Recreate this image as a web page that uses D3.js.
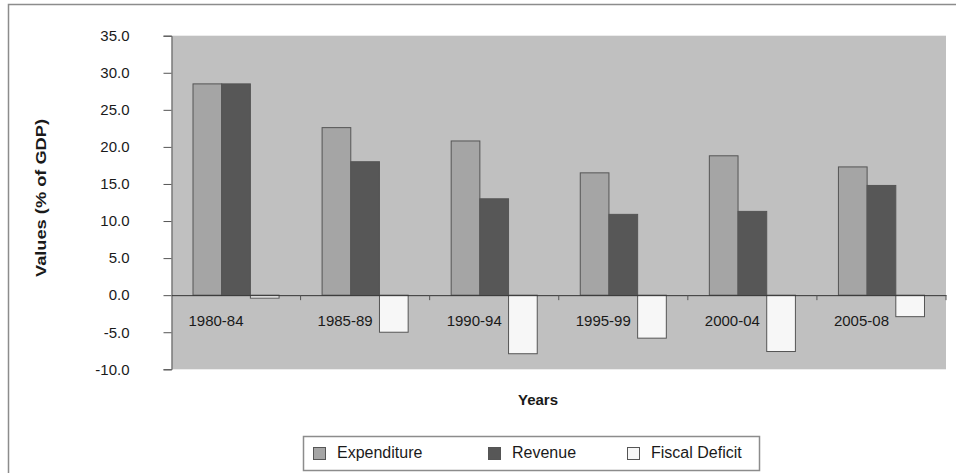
<!DOCTYPE html>
<html>
<head>
<meta charset="utf-8">
<script src="https://cdn.jsdelivr.net/npm/d3@7"></script>
<style>
  body { margin: 0; background: #fff; }
  text { font-family: "Liberation Sans", Arial, sans-serif; fill: #1a1a1a; }
  .axis-title { font-weight: bold; font-size: 15px; }
</style>
</head>
<body>
<svg id="chart" width="956" height="473"></svg>
<script>
const PERIODS = ["1980-84", "1985-89", "1990-94", "1995-99", "2000-04", "2005-08"];
const SERIES = ["Expenditure", "Revenue", "Fiscal Deficit"];
const EXPENDITURE = [28.5, 22.6, 20.8, 16.5, 18.8, 17.3];
const REVENUE = [28.5, 18.0, 13.0, 10.9, 11.3, 14.8];
const FISCAL_DEFICIT = [-0.4, -5.0, -7.9, -5.8, -7.6, -2.9];
const Y_TICKS = [-10, -5, 0, 5, 10, 15, 20, 25, 30, 35];

const COLORS = {"Expenditure": "#a5a5a5", "Revenue": "#575757", "Fiscal Deficit": "#f7f7f7"};

const PLOT = {left: 171.5, right: 946, top: 35.7, bottom: 369.3};

let svg = d3.select("#chart");

// outer frame (only top and left edges are visible)
svg.append("path")
   .attr("d", "M8.5,473 L8.5,4.5 L956,4.5")
   .attr("fill", "none")
   .attr("stroke", "#8c8c8c")
   .attr("stroke-width", 1.5);

let x = d3.scaleBand().domain(PERIODS).range([PLOT.left, PLOT.right]).paddingInner(0).paddingOuter(0);
let y = d3.scaleLinear().domain([-10, 35]).range([PLOT.bottom, PLOT.top]);

// inner bar positions: gap width 150% => each bar = band / 4.5
let xs = d3.scaleBand().domain(SERIES).range([0, x.bandwidth()]).paddingInner(0).paddingOuter(0.75);

svg.append("rect")
   .attr("x", PLOT.left).attr("y", PLOT.top)
   .attr("width", PLOT.right - PLOT.left).attr("height", PLOT.bottom - PLOT.top)
   .attr("fill", "#c0c0c0");

// y axis
let yAxis = svg.append("g")
   .attr("transform", `translate(${PLOT.left},0)`)
   .call(d3.axisLeft(y).tickValues(Y_TICKS).tickSize(8).tickPadding(34)
           .tickFormat(d => d.toFixed(1)));
yAxis.select(".domain").attr("stroke", "#555");
yAxis.selectAll(".tick line").attr("stroke", "#555");
yAxis.selectAll(".tick text").attr("font-size", "15px").attr("fill", "#1a1a1a")
     .attr("font-family", "Liberation Sans, Arial, sans-serif");

// bars
let rows = PERIODS.map((p, i) => ({period: p, values: [EXPENDITURE[i], REVENUE[i], FISCAL_DEFICIT[i]]}));

let groups = svg.append("g").selectAll("g")
   .data(rows).enter().append("g")
   .attr("transform", d => `translate(${x(d.period)},0)`);

groups.selectAll("rect")
   .data(d => d.values.map((v, j) => ({key: SERIES[j], value: v})))
   .enter().append("rect")
   .attr("x", d => xs(d.key))
   .attr("width", xs.bandwidth())
   .attr("y", d => y(Math.max(0, d.value)))
   .attr("height", d => Math.abs(y(d.value) - y(0)))
   .attr("fill", d => COLORS[d.key])
   .attr("stroke", "#555")
   .attr("stroke-width", 1);

// category axis on zero line
let xAxis = svg.append("g")
   .attr("transform", `translate(0,${y(0)})`)
   .call(d3.axisBottom(x).tickSize(0).tickFormat(""));
xAxis.select(".domain").attr("stroke", "#333");

svg.append("g").selectAll("line")
   .data(PERIODS).enter().append("line")
   .attr("x1", d => x(d) + x.bandwidth())
   .attr("x2", d => x(d) + x.bandwidth())
   .attr("y1", y(0)).attr("y2", y(0) + 5)
   .attr("stroke", "#555");

svg.append("g").selectAll("text")
   .data(PERIODS).enter().append("text")
   .attr("x", d => x(d) + x.bandwidth() / 2 - 20)
   .attr("y", y(0) + 31)
   .attr("text-anchor", "middle")
   .attr("font-size", "15px")
   .text(d => d);

// axis titles
svg.append("text")
   .attr("class", "axis-title")
   .attr("transform", `translate(46,198) rotate(-90)`)
   .attr("text-anchor", "middle")
   .attr("font-size", "19.5px")
   .attr("textLength", 158)
   .attr("lengthAdjust", "spacingAndGlyphs")
   .text("Values (% of GDP)");

svg.append("text")
   .attr("class", "axis-title")
   .attr("x", 538).attr("y", 405)
   .attr("text-anchor", "middle")
   .text("Years");

// legend
const LEGEND_X = [313, 488, 627];
let legend = svg.append("g");
legend.append("rect")
   .attr("x", 303.5).attr("y", 436.5).attr("width", 456).attr("height", 34)
   .attr("fill", "#fff").attr("stroke", "#8c8c8c").attr("stroke-width", 1.5);

let items = legend.selectAll(".item")
   .data(SERIES).enter().append("g")
   .attr("transform", (d, i) => `translate(${LEGEND_X[i]},447)`);

items.append("rect")
   .attr("width", 12).attr("height", 12).attr("y", 0.5).attr("x", 0.5)
   .attr("fill", d => COLORS[d]).attr("stroke", "#555");

items.append("text")
   .attr("x", 24).attr("y", 11)
   .attr("font-size", "16px")
   .text(d => d);
</script>
</body>
</html>
